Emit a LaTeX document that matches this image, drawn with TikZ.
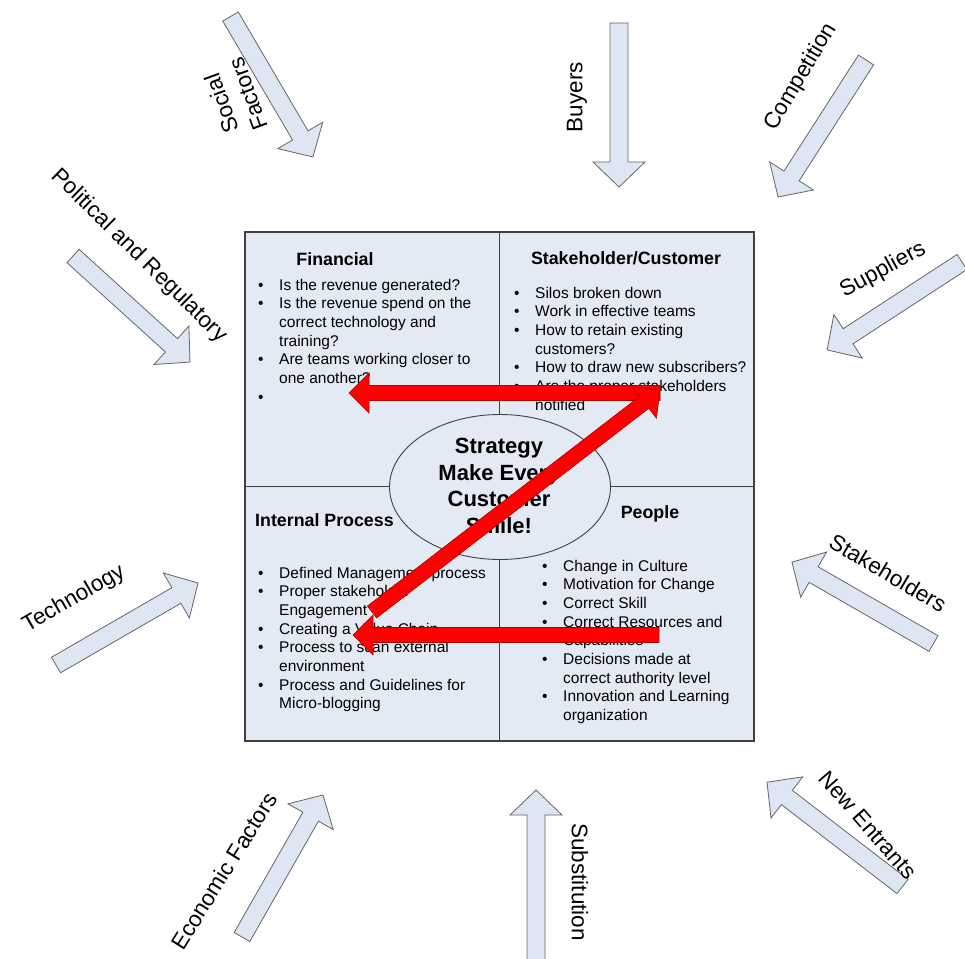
\documentclass[tikz,border=0pt]{standalone}
\usepackage{fontspec}
\setmainfont{Liberation Sans}
\usetikzlibrary{shapes.geometric}
\definecolor{boxfill}{HTML}{E4EAF4}
\definecolor{boxline}{HTML}{404040}
\definecolor{arrfill}{HTML}{DDE6F2}
\definecolor{arrline}{HTML}{666666}
\definecolor{redfill}{HTML}{FF0000}
\definecolor{redline}{HTML}{B00000}
\newcommand{\blockarr}[7]{%
  \begin{scope}[shift={(#1)},rotate=#2]
    \draw[#4] (0,-#5) -- ({#3-#7},-#5) -- ({#3-#7},-#6) -- (#3,0) -- ({#3-#7},#6) -- ({#3-#7},#5) -- (0,#5) -- cycle;
  \end{scope}}
\newcommand{\bul}{\makebox[21pt][l]{\textbullet}}
\tikzset{
  quad/.style={draw=boxline, fill=boxfill, line width=1.1pt, inner sep=0pt, minimum width=254.5, minimum height=254.5},
  title/.style={font=\bfseries\fontsize{17.8}{21}\selectfont, inner sep=0pt},
  listnode/.style={font=\fontsize{15.5}{18.7}\selectfont, inner sep=0pt, anchor=base west},
  outlabel/.style={font=\fontsize{22.5}{26}\selectfont, inner sep=0pt, align=center},
  garrow/.style={draw=arrline, fill=arrfill, line width=0.8pt, line join=miter},
  rarrow/.style={draw=redline, fill=redfill, line width=0.6pt, line join=miter},
  stratstyle/.style={draw=boxline, fill=boxfill, ellipse, line width=0.9pt, inner sep=0pt, minimum width=221, minimum height=145}
}
\begin{document}
\begin{tikzpicture}[x=1pt,y=-1pt]
\useasboundingbox (0,0) rectangle (965,958);
\fill[white] (0,0) rectangle (965,958);

% outer grey arrows
\blockarr{230.5,16.5}{-59.6}{162.9}{garrow}{9}{26}{25}
\blockarr{619,23}{-90}{164}{garrow}{9}{26}{25}
\blockarr{866,60}{-122.7}{162.8}{garrow}{9}{26}{25}
\blockarr{962,262}{-146.9}{161}{garrow}{9}{26}{25}
\blockarr{73,256}{-42.2}{157.9}{garrow}{9}{26}{25}
\blockarr{56,665}{30}{164}{garrow}{9}{26}{25}
\blockarr{242,937}{60.3}{163.5}{garrow}{9}{26}{25}
\blockarr{536,960}{90}{170}{garrow}{9}{26}{25}
\blockarr{902.5,886.5}{142.4}{171}{garrow}{9}{26}{25}
\blockarr{933.5,643.5}{150.1}{163.3}{garrow}{9}{26}{25}

% outer labels
\node[outlabel, rotate=110, font=\fontsize{22.5}{28}\selectfont] (lsoc) at (235,99) {Social\\Factors};
\node[outlabel, rotate=90] (lbuy) at (577,97) {Buyers};
\node[outlabel, rotate=59.4] (lcomp) at (801,77) {Competition};
\node[outlabel, rotate=28.5] (lsupp) at (883,270) {Suppliers};
\node[outlabel, rotate=-44.5] (lpol) at (139,256) {Political and Regulatory};
\node[outlabel, rotate=30] (ltech) at (74,599) {Technology};
\node[outlabel, rotate=58] (lecon) at (224,871) {Economic Factors};
\node[outlabel, rotate=-90] (lsubs) at (580,882) {Substitution};
\node[outlabel, rotate=-49] (lnew) at (868,825) {New Entrants};
\node[outlabel, rotate=-30.5] (lstk) at (888,573) {Stakeholders};

% quadrants
\node[quad] (fin) at (372.25,359.25) {};
\node[quad] (stk) at (626.75,359.25) {};
\node[quad] (int) at (372.25,613.75) {};
\node[quad] (ppl) at (626.75,613.75) {};

% titles
\node[title, anchor=base] (tfin) at (335,265) {Financial};
\node[title, anchor=base] (tstk) at (626,264) {Stakeholder/Customer};
\node[title, anchor=base west] (tint) at (255,526) {Internal Process};
\node[title, anchor=base] (tppl) at (650,518) {People};

% lists
\node[listnode] (lfin) at (258,290) {\begin{tabular}[t]{@{}l@{}l@{}}
\bul & Is the revenue generated?\\
\bul & Is the revenue spend on the\\
 & correct technology and\\
 & training?\\
\bul & Are teams working closer to\\
 & one another?\\
\bul & \strut
\end{tabular}};
\node[listnode] (lstk) at (514,298) {\begin{tabular}[t]{@{}l@{}l@{}}
\bul & Silos broken down\\
\bul & Work in effective teams\\
\bul & How to retain existing\\
 & customers?\\
\bul & How to draw new subscribers?\\
\bul & Are the proper stakeholders\\
 & notified
\end{tabular}};
\node[listnode] (lint) at (258,578) {\begin{tabular}[t]{@{}l@{}l@{}}
\bul & Defined Management process\\
\bul & Proper stakeholder\\
 & Engagement\\
\bul & Creating a Value Chain\\
\bul & Process to scan external\\
 & environment\\
\bul & Process and Guidelines for\\
 & Micro-blogging
\end{tabular}};
\node[listnode] (lppl) at (542,571) {\begin{tabular}[t]{@{}l@{}l@{}}
\bul & Change in Culture\\
\bul & Motivation for Change\\
\bul & Correct Skill\\
\bul & Correct Resources and\\
 & Capabilities\\
\bul & Decisions made at\\
 & correct authority level\\
\bul & Innovation and Learning\\
 & organization
\end{tabular}};

% centre ellipse
\node[stratstyle] (strat) at (500,487) {};
\node[font=\bfseries\fontsize{22}{26.7}\selectfont, align=center, inner sep=0pt] (strattxt) at (499,486) {Strategy\\Make Every\\Customer\\Smile!};

% red arrows
\coordinate (r1s) at (660,393);
\coordinate (r2s) at (372,612);
\coordinate (r3s) at (659,635);
\blockarr{r1s}{180}{311}{rarrow}{7.5}{20}{20}
\blockarr{r3s}{180}{306}{rarrow}{7.5}{20}{20}
\blockarr{r2s}{37.6}{363.6}{rarrow}{7.5}{20}{20}
\end{tikzpicture}
\end{document}
